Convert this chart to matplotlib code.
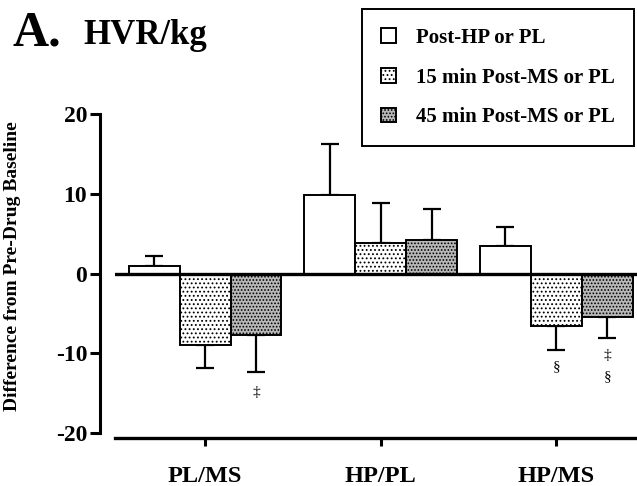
import numpy as np
import matplotlib
matplotlib.use("Agg")
import matplotlib.pyplot as plt

plt.rcParams['font.family'] = ['Liberation Serif', 'DejaVu Serif']
plt.rcParams['font.weight'] = 'bold'
plt.rcParams['hatch.linewidth'] = 0.8
plt.rcParams['axes.unicode_minus'] = False

# data
groups = ["PL/MS", "HP/PL", "HP/MS"]
post_hp = [0.95, 9.8, 3.5]
post_hp_err = [1.25, 6.4, 2.35]
min15 = [-9.0, 3.85, -6.6]
min15_err = [2.8, 5.05, 3.0]
min45 = [-7.65, 4.25, -5.45]
min45_err = [4.75, 3.85, 2.65]
series_labels = ["Post-HP or PL", "15 min Post-MS or PL", "45 min Post-MS or PL"]

# significance marks: (group index, bar index, y, text)
marks = [(0, 2, -14.9, "\u2021"), (2, 1, -11.75, "\u00a7"),
         (2, 2, -10.25, "\u2021"), (2, 2, -13.0, "\u00a7")]

fig = plt.figure(figsize=(6.37, 4.86), dpi=100)
ax = fig.add_axes([115 / 637, 53 / 486, 522 / 637, 319 / 486])

x = np.arange(len(groups))
w = 0.29
styles = [dict(facecolor='white', hatch=None),
          dict(facecolor='white', hatch='....'),
          dict(facecolor='#b8b8b8', hatch='.....')]
vals = [post_hp, min15, min45]
errs = [post_hp_err, min15_err, min45_err]

handles = []
for i, (v, e, st) in enumerate(zip(vals, errs, styles)):
    xs = x + (i - 1) * w
    b = ax.bar(xs, v, w, edgecolor='black', linewidth=1.4, zorder=2, label=series_labels[i], **st)
    handles.append(b)
    v = np.array(v)
    e = np.array(e)
    lower = np.where(v < 0, e, 0)
    upper = np.where(v >= 0, e, 0)
    ax.errorbar(xs, v, yerr=[lower, upper], fmt='none', ecolor='black',
                elinewidth=1.6, capsize=6.5, capthick=1.6, zorder=1)

for g, bi, yy, t in marks:
    ax.text(x[g] + (bi - 1) * w, yy, t, ha='center', va='center', fontsize=11, fontweight='normal')

ax.axhline(0, color='black', lw=2.4, zorder=3)

ax.set_xlim(-0.513, 2.46)
ax.set_ylim(-20, 20)
ax.set_yticks([-20, -10, 0, 10, 20])
ax.set_xticks(x)
ax.tick_params(axis='y', labelsize=17, length=7, width=2.2, pad=2)
ax.tick_params(axis='x', labelsize=17.5, length=6, width=2.2, pad=14)
ax.set_xticklabels(groups, fontsize=17.5, fontweight='bold')
for lab in ax.get_yticklabels():
    lab.set_fontweight('bold')

ax.spines['top'].set_visible(False)
ax.spines['right'].set_visible(False)
ax.spines['left'].set_position(('outward', 11))
ax.spines['bottom'].set_position(('outward', 3.6))
ax.spines['left'].set_linewidth(2.2)
ax.spines['bottom'].set_linewidth(2.4)

ax.set_ylabel("Difference from Pre-Drug Baseline", fontsize=14, fontweight='bold')
ax.yaxis.set_label_coords(-(115 - 21) / 522, 0.522)

fig.text(13 / 637, 1 - 46 / 486, "A.", fontsize=36, fontweight='bold', va='baseline')
fig.text(83 / 637, 1 - 44 / 486, "HVR/kg", fontsize=25, fontweight='bold', va='baseline')

leg = ax.legend(handles=handles, labels=series_labels, loc='upper right',
                bbox_to_anchor=(634 / 637, 1 - 9 / 486), bbox_transform=fig.transFigure,
                fontsize=15, frameon=True, fancybox=False, edgecolor='black',
                handlelength=0.7, handleheight=0.7, handletextpad=1.0,
                labelspacing=0.95, borderpad=0.9, borderaxespad=0)
leg.get_frame().set_linewidth(1.4)
leg.get_frame().set_alpha(None)

fig.savefig("out.png", dpi=100)
